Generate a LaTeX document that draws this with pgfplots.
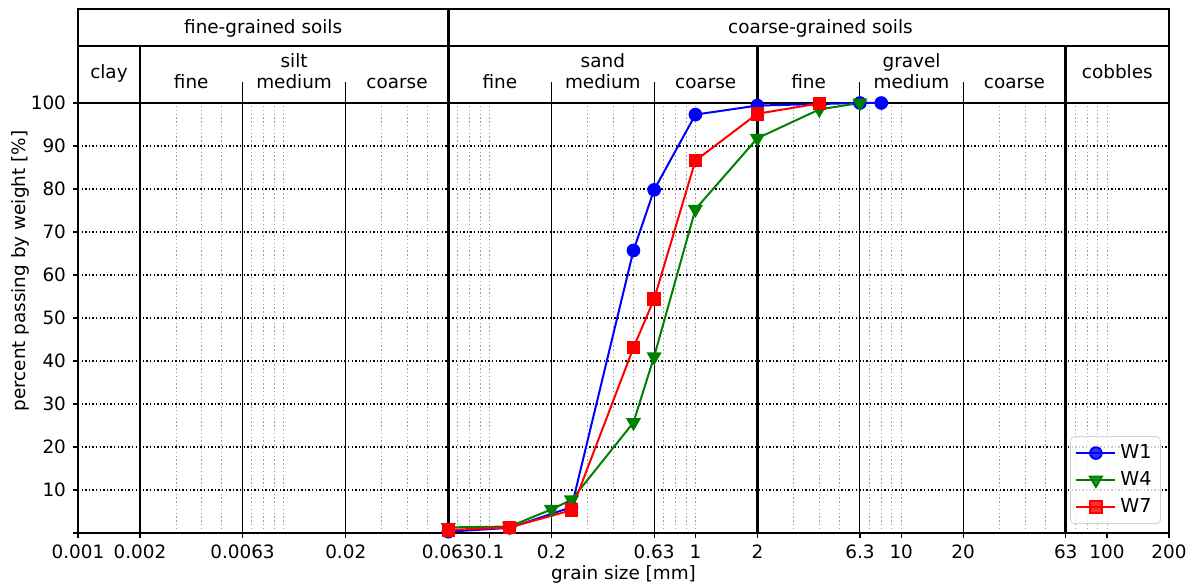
\documentclass[border=0pt]{standalone}
\usepackage{fontspec}
\setmainfont{DejaVu Sans}
\usepackage{pgfplots}
\pgfplotsset{compat=1.18}
\definecolor{mplgreen}{RGB}{0,128,0}
\begin{document}
\begin{tikzpicture}[font=\fontsize{9.2}{11}\selectfont]
\useasboundingbox (-39pt,-27.5pt) rectangle (558.5pt,266.5pt);
\begin{axis}[
  at={(0,0)}, anchor=south west,
  scale only axis, width=545.5pt, height=215pt,
  xmode=log, xmin=0.001, xmax=200, ymin=0, ymax=100,
  clip=false,
  axis line style={line width=1pt},
  xtick={0.001,0.002,0.0063,0.02,0.063,0.1,0.2,0.63,1,2,6.3,10,20,63,100,200},
  xticklabels={0.001,0.002,0.0063,0.02,0.063,0.1,0.2,0.63,1,2,6.3,10,20,63,100,200},
  minor xtick={0.003,0.004,0.005,0.007,0.008,0.009,0.01,0.03,0.04,0.05,0.07,0.08,0.09,0.1,0.3,0.4,0.5,0.7,0.8,0.9,1,3,4,5,7,8,9,10,30,40,50,70,80,90,100},
  ytick={0,10,...,100},
  yticklabels={,10,20,30,40,50,60,70,80,90,100},
  tick align=outside,
  tick pos=left,
  major tick length=2.5pt,
  minor tick length=0pt,
  tick style={black, line width=0.6pt},
  xminorgrids=true, ymajorgrids=true,
  minor grid style={gray!75, line width=0.5pt, dash pattern=on 0.7pt off 1.2pt},
  major grid style={black, line width=0.6pt, dash pattern=on 0.7pt off 1.1pt},
  xlabel={grain size [mm]},
  ylabel={percent passing by weight [\%]},
  xlabel style={at={(axis description cs:0.5,0)}, anchor=center, yshift=-20.5pt},
  ylabel style={at={(axis description cs:-0.0527,0.609)}, anchor=center},
  legend style={at={(1,0)}, anchor=south east, xshift=-4pt, yshift=4.5pt,
    draw=gray!35, rounded corners=2pt, fill=white, fill opacity=0.8, text opacity=1,
    inner xsep=2.5pt, inner ysep=2pt, row sep=1pt, cells={anchor=west},
    font=\fontsize{9.6}{11}\selectfont},
  legend image code/.code={\draw[mark repeat=2,mark phase=2] plot coordinates {(0pt,0pt) (9.75pt,0pt) (19.5pt,0pt)};},
]
% vertical boundary lines
\draw[line width=0.5pt] (axis cs:0.0063,0) -- (axis cs:0.0063,104.9);
\draw[line width=0.5pt] (axis cs:0.02,0) -- (axis cs:0.02,104.9);
\draw[line width=0.5pt] (axis cs:0.2,0) -- (axis cs:0.2,104.9);
\draw[line width=0.5pt] (axis cs:0.63,0) -- (axis cs:0.63,104.9);
\draw[line width=0.5pt] (axis cs:6.3,0) -- (axis cs:6.3,104.9);
\draw[line width=0.5pt] (axis cs:20,0) -- (axis cs:20,104.9);
\draw[line width=1.3pt] (axis cs:0.002,0) -- (axis cs:0.002,113.26);
\draw[line width=1.3pt] (axis cs:0.063,0) -- (axis cs:0.063,121.86);
\draw[line width=1.3pt] (axis cs:2,0) -- (axis cs:2,113.26);
\draw[line width=1.3pt] (axis cs:63,0) -- (axis cs:63,113.26);
% header frame
\draw[line width=1.3pt] (axis cs:0.001,100) -- (axis cs:200,100);
\draw[line width=1pt] (axis cs:0.001,113.26) -- (axis cs:200,113.26);
\draw[line width=1pt] (axis cs:0.001,100) -- (axis cs:0.001,121.86) -- (axis cs:200,121.86) -- (axis cs:200,100);
% header text
\node[anchor=base] at (axis cs:0.00794,116.2) {fine-grained soils};
\node[anchor=base] at (axis cs:4.05,116.2) {coarse-grained soils};
\node[anchor=base] at (axis cs:0.001414,105.8) {clay};
\node[anchor=base] at (axis cs:0.01122,108.2) {silt};
\node[anchor=base] at (axis cs:0.00355,103.4) {fine};
\node[anchor=base] at (axis cs:0.01122,103.4) {medium};
\node[anchor=base] at (axis cs:0.0355,103.4) {coarse};
\node[anchor=base] at (axis cs:0.355,108.2) {sand};
\node[anchor=base] at (axis cs:0.1122,103.4) {fine};
\node[anchor=base] at (axis cs:0.355,103.4) {medium};
\node[anchor=base] at (axis cs:1.122,103.4) {coarse};
\node[anchor=base] at (axis cs:11.22,108.2) {gravel};
\node[anchor=base] at (axis cs:3.55,103.4) {fine};
\node[anchor=base] at (axis cs:11.22,103.4) {medium};
\node[anchor=base] at (axis cs:35.5,103.4) {coarse};
\node[anchor=base] at (axis cs:112.2,105.8) {cobbles};
% data
\addplot[blue, line width=1pt, mark=*, mark size=2.9pt] coordinates {
 (0.063,0.3) (0.125,1.2) (0.25,6.0) (0.5,65.7) (0.63,79.8) (1,97.3) (2,99.4) (6.3,100) (8,100)};
\addlegendentry{W1}
\addplot[mplgreen, line width=1pt, mark=triangle*, mark size=3.4pt, mark options={rotate=180}] coordinates {
 (0.063,1.3) (0.125,1.5) (0.2,5.5) (0.25,7.7) (0.5,25.7) (0.63,41.0) (1,75.3) (2,91.8) (4,98.5) (6.3,100)};
\addlegendentry{W4}
\addplot[red, line width=1pt, mark=square*, mark size=2.9pt] coordinates {
 (0.063,0.7) (0.125,1.3) (0.25,5.3) (0.5,43.1) (0.63,54.4) (1,86.6) (2,97.5) (4,99.9)};
\addlegendentry{W7}
\end{axis}
\end{tikzpicture}
\end{document}
